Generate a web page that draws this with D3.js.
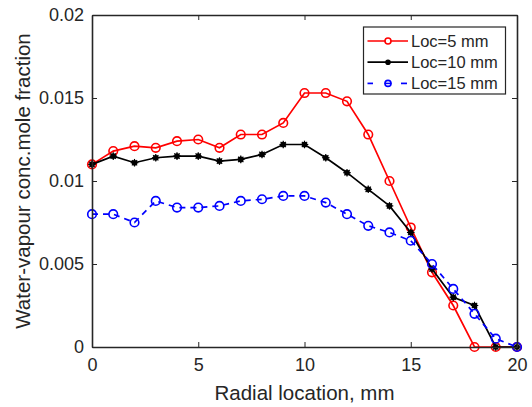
<!DOCTYPE html>
<html><head><meta charset="utf-8">
<script src="https://cdn.jsdelivr.net/npm/d3@7"></script>
<style>body{margin:0;background:#fff}svg{display:block}text{font-family:"Liberation Sans",Arial,sans-serif;fill:#262626}</style>
</head><body>
<svg id="c" width="532" height="407"></svg>
<script>
const xValues = [0,1,2,3,4,5,6,7,8,9,10,11,12,13,14,15,16,17,18,19,20];
const loc5 = [0.0110,0.0118,0.0121,0.0120,0.0124,0.0125,0.0120,0.0128,0.0128,0.0135,0.0153,0.0153,0.0148,0.0128,0.0100,0.0072,0.0045,0.0025,0.0000,0.0000,0.0000];
const loc10 = [0.0110,0.0115,0.0111,0.0114,0.0115,0.0115,0.0112,0.0113,0.0116,0.0122,0.0122,0.0114,0.0105,0.0095,0.0085,0.0069,0.0047,0.0030,0.0025,0.0000,0.0000];
const loc15 = [0.0080,0.0080,0.0075,0.0088,0.0084,0.0084,0.0085,0.0088,0.0089,0.0091,0.0091,0.0087,0.0080,0.0073,0.0069,0.0064,0.0050,0.0035,0.0020,0.0005,0.0000];
const seriesNames = ["Loc=5 mm","Loc=10 mm","Loc=15 mm"];
const xTicks = [0,5,10,15,20];
const yTicks = [0,0.005,0.01,0.015,0.02];
const yTickLabels = ["0","0.005","0.01","0.015","0.02"];

const svg = d3.select("#c");
const L=92, R=517, T=15, B=347;
const x = d3.scaleLinear().domain([0,20]).range([L,R]);
const y = d3.scaleLinear().domain([0,0.02]).range([B,T]);
const axisColor="#262626";

const styles = [
  {data:loc5, color:"#ff0000", dash:null, marker:"circle"},
  {data:loc10, color:"#000000", dash:null, marker:"star"},
  {data:loc15, color:"#0000ff", dash:"6,5", marker:"circle"}
];
const line = d3.line().x((d,i)=>x(xValues[i])).y(d=>y(d));
const plot = svg.append("g");

function drawMarker(g, cx, cy, s){
  if(s.marker==="circle"){
    g.append("circle").attr("cx",cx).attr("cy",cy).attr("r",4.3).attr("fill","none").attr("stroke",s.color).attr("stroke-width",1.6);
  } else {
    g.append("circle").attr("cx",cx).attr("cy",cy).attr("r",2.8).attr("fill",s.color);
    const r=3.8;
    [[r,0],[0,r],[r*0.7,r*0.7],[r*0.7,-r*0.7]].forEach(([dx,dy])=>{
      g.append("line").attr("x1",cx-dx).attr("y1",cy-dy).attr("x2",cx+dx).attr("y2",cy+dy).attr("stroke",s.color).attr("stroke-width",1.2);
    });
  }
}
styles.forEach(s=>{
  plot.append("path").datum(s.data).attr("d",line).attr("fill","none").attr("stroke",s.color).attr("stroke-width",1.7).attr("stroke-dasharray",s.dash);
  s.data.forEach((d,i)=>drawMarker(plot, x(xValues[i]), y(d), s));
});

// axes
const xa = svg.append("g").attr("transform",`translate(0,${B})`).call(d3.axisBottom(x).tickValues(xTicks).tickFormat(d3.format("d")).tickSizeInner(-5).tickSizeOuter(0).tickPadding(11));
const ya = svg.append("g").attr("transform",`translate(${L},0)`).call(d3.axisLeft(y).tickValues(yTicks).tickFormat((d,i)=>yTickLabels[i]).tickSizeInner(-5).tickSizeOuter(0).tickPadding(8));
const xt = svg.append("g").attr("transform",`translate(0,${T})`).call(d3.axisTop(x).tickValues(xTicks).tickFormat("").tickSizeInner(-5).tickSizeOuter(0));
const yr = svg.append("g").attr("transform",`translate(${R},0)`).call(d3.axisRight(y).tickValues(yTicks).tickFormat("").tickSizeInner(-5).tickSizeOuter(0));
[xa,ya,xt,yr].forEach(a=>{
  a.selectAll("path").attr("stroke",axisColor).attr("stroke-width",1.6);
  a.selectAll("line").attr("stroke",axisColor).attr("stroke-width",1);
  a.selectAll("text").attr("font-size",18).attr("fill",axisColor).style("font-family","Liberation Sans, Arial, sans-serif");
});

svg.append("text").attr("x",(L+R)/2).attr("y",400).attr("text-anchor","middle").attr("font-size",20.5).text("Radial location, mm");
svg.append("text").attr("transform",`translate(30,${(T+B)/2}) rotate(-90)`).attr("text-anchor","middle").attr("font-size",20.5).text("Water-vapour conc.mole fraction");

// legend
const lg = svg.append("g");
lg.append("rect").attr("x",363.5).attr("y",27).attr("width",142).attr("height",67).attr("fill","#fff").attr("stroke","#262626").attr("stroke-width",1.2);
styles.forEach((s,i)=>{
  const yy = 41 + i*21.2;
  if(s.dash){
    lg.append("line").attr("x1",367.5).attr("x2",373).attr("y1",yy).attr("y2",yy).attr("stroke",s.color).attr("stroke-width",1.7);
    lg.append("line").attr("x1",401).attr("x2",407).attr("y1",yy).attr("y2",yy).attr("stroke",s.color).attr("stroke-width",1.7);
    lg.append("line").attr("x1",384.5).attr("x2",391.5).attr("y1",yy).attr("y2",yy).attr("stroke",s.color).attr("stroke-width",1.5);
  } else {
    lg.append("line").attr("x1",367.5).attr("x2",408).attr("y1",yy).attr("y2",yy).attr("stroke",s.color).attr("stroke-width",1.7);
  }
  if(s.marker==="circle"){ lg.append("circle").attr("cx",388).attr("cy",yy).attr("r",3).attr("fill",s.dash?"none":"#fff").attr("stroke",s.color).attr("stroke-width",1.6);}
  else { lg.append("circle").attr("cx",388).attr("cy",yy).attr("r",2.8).attr("fill",s.color);}
  lg.append("text").attr("x",411).attr("y",yy+6).attr("font-size",16.5).text(seriesNames[i]);
});
</script>
</body></html>
